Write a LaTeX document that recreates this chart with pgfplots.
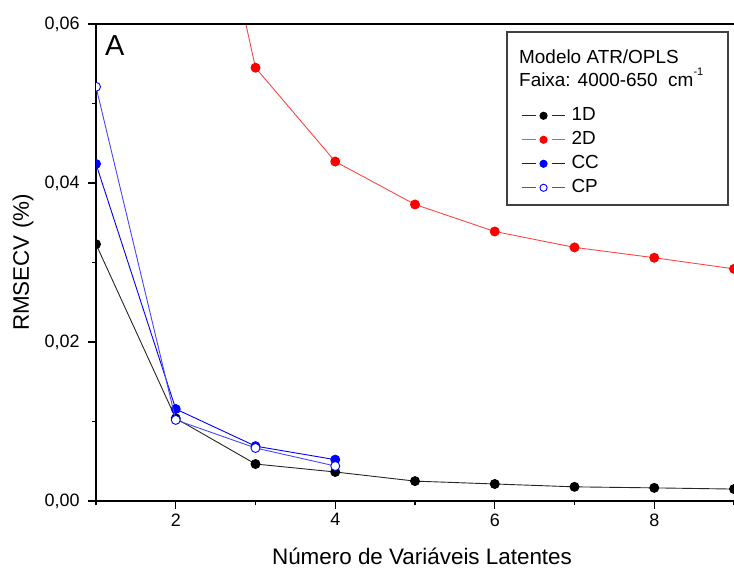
\documentclass[border=0pt]{standalone}
\usepackage{fontspec}
\setmainfont{Liberation Sans}
\usepackage{pgfplots}
\usepackage{pgfplotstable}
\pgfplotsset{compat=1.18}

\definecolor{redline}{RGB}{255,70,70}
\definecolor{cpblue}{RGB}{70,70,255}
\definecolor{framegray}{RGB}{64,64,64}

% RMSECV vs number of latent variables
\pgfplotstableread{
x y
1 0.0323
2 0.0104
3 0.00465
4 0.00365
5 0.0025
6 0.00214
7 0.00178
8 0.00165
9 0.0015
}\oned
\pgfplotstableread{
x y
2 0.1000
3 0.0545
4 0.0427
5 0.0373
6 0.0339
7 0.0319
8 0.0306
9 0.0292
}\twod
\pgfplotstableread{
x y
1 0.0424
2 0.01157
3 0.0069
4 0.0052
}\cc
\pgfplotstableread{
x y
1 0.0521
2 0.0102
3 0.00667
4 0.0044
}\cp

\begin{document}
\begin{tikzpicture}
\begin{axis}[
  scale only axis,
  width=638bp, height=477bp,
  xmin=1, xmax=9, ymin=0, ymax=0.06,
  axis lines*=left,
  axis line style={line width=1.4bp},
  xtick={2,4,6,8}, minor xtick={1,3,5,7,9},
  ytick={0,0.02,0.04,0.06}, minor ytick={0.01,0.03,0.05},
  tick align=outside,
  major tick length=8bp, minor tick length=4.5bp,
  tick style={line width=1.4bp, black},
  scaled y ticks=false,
  yticklabel style={xshift=-5bp, /pgf/number format/.cd, fixed, fixed zerofill, precision=2, use comma},
  /pgf/number format/assume math mode=true,
  tick label style={font=\fontsize{18}{21}\selectfont},
  xticklabel style={yshift=-1bp},
  xlabel={Número de Variáveis Latentes},
  ylabel={RMSECV (\%)},
  label style={font=\fontsize{22.5}{26}\selectfont},
  xlabel style={at={(axis description cs:0.511,0)}, anchor=center, yshift=-55bp},
  ylabel style={at={(axis description cs:-0.1144,0.5)}, anchor=center},
  clip marker paths=true,
  every axis plot/.append style={line width=0.9bp, mark size=4.5bp},
  legend image code/.code={
    \draw[#1] (0bp,0bp) -- (14bp,0bp) (30bp,0bp) -- (43bp,0bp);
    \path[#1, mark size=3.6bp] plot coordinates {(22bp,0bp)};},
  legend style={at={(rel axis cs:0.666,0.83)}, anchor=north west, draw=none, fill=none,
    font=\fontsize{19}{23}\selectfont, row sep=3bp, column sep=5bp, inner sep=0pt,
    nodes={inner sep=1.5bp, text height=14bp, text depth=4bp}},
  legend cell align=left,
]
\addplot[black!85, mark=*, mark options={fill=black, draw=black}] table {\oned};
\addlegendentry{1D}
\addplot[redline, mark=*, mark options={fill=red, draw=red}] table {\twod};
\addlegendentry{2D}
\addplot[blue, mark=*, mark options={fill=blue, draw=blue}] table {\cc};
\addlegendentry{CC}
\addplot[cpblue, mark=*, mark options={fill=white, draw=blue, line width=0.9bp}] table {\cp};
\addlegendentry{CP}
\coordinate (fr1) at (rel axis cs:0.6442,0.9832);
\coordinate (fr2) at (rel axis cs:0.9906,0.6205);
\coordinate (hdr) at (rel axis cs:0.663,0.870);
\coordinate (lblA) at (rel axis cs:0.0,1);
\end{axis}
\draw[line width=1.4bp] (current axis.north west) -- (current axis.north east);
\draw[framegray, line width=1.2bp] (fr1) rectangle (fr2);
\node[anchor=base west, align=left, inner sep=0pt, font=\fontsize{19}{23}\selectfont] at (hdr)
  {Modelo ATR/OPLS\\Faixa: 4000-650\ \ cm\raisebox{1.1ex}{\fontsize{11}{11}\selectfont -1}};
\node[anchor=north west, inner sep=0pt, font=\fontsize{29}{30}\selectfont] at ([shift={(9bp,-11bp)}]lblA) {A};
\pgfresetboundingbox
\useasboundingbox ([shift={(-96bp,-67bp)}]current axis.south west) rectangle ([shift={(0bp,24bp)}]current axis.north east);
\end{tikzpicture}
\end{document}
